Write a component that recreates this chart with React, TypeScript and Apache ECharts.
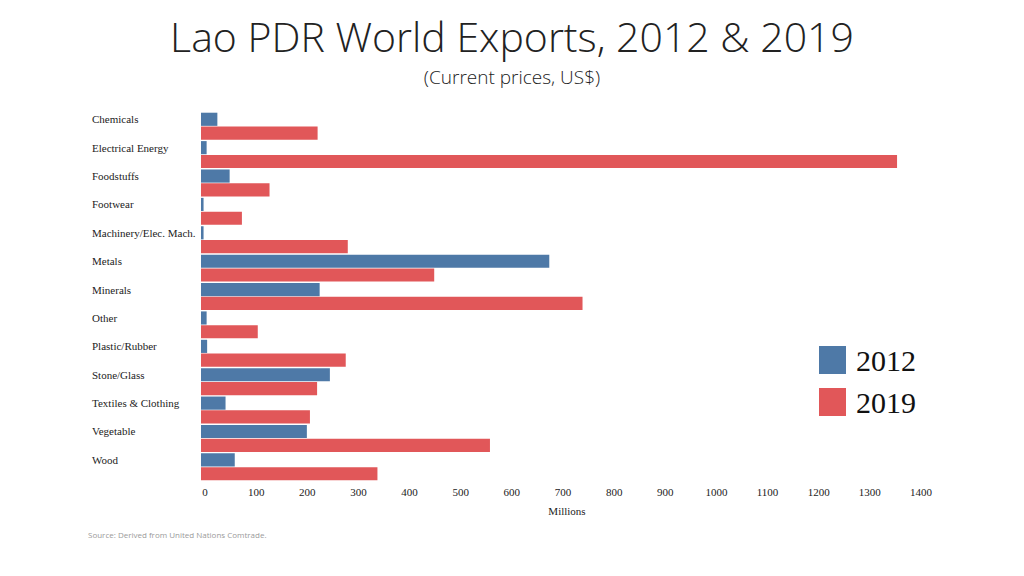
import React, { useEffect, useRef } from "react";
import * as echarts from "echarts";

const categories = [
  "Chemicals",
  "Electrical Energy",
  "Foodstuffs",
  "Footwear",
  "Machinery/Elec. Mach.",
  "Metals",
  "Minerals",
  "Other",
  "Plastic/Rubber",
  "Stone/Glass",
  "Textiles & Clothing",
  "Vegetable",
  "Wood",
];
const values2012 = [32, 11, 56, 5, 5, 681, 232, 11, 12, 252, 48, 207, 66];
const values2019 = [228, 1361, 134, 80, 287, 456, 746, 111, 283, 227, 213, 565, 345];
const seriesNames = ["2012", "2019"];
const colors = ["#4E79A7", "#E15759"];

export default function App() {
  const ref = useRef<HTMLDivElement>(null);
  useEffect(() => {
    if (!ref.current) return;
    const chart = echarts.init(ref.current, null, { renderer: "svg" });
    const serif = "'Liberation Serif', 'Times New Roman', serif";
    chart.setOption({
      animation: false,
      backgroundColor: "#ffffff",
      title: [
        {
          text: "Lao PDR World Exports, 2012 & 2019",
          left: "center",
          top: 13,
          padding: 0,
          textStyle: {
            fontFamily: "'Open Sans', sans-serif",
            fontWeight: 300,
            fontSize: 41,
            lineHeight: 46,
            color: "#222222",
          },
        },
        {
          text: "(Current prices, US$)",
          left: "center",
          top: 66,
          padding: 0,
          textStyle: {
            fontFamily: "'Open Sans', sans-serif",
            fontWeight: 300,
            fontSize: 19,
            lineHeight: 22,
            color: "#222222",
          },
        },
        {
          text: "Source: Derived from United Nations Comtrade.",
          left: 88,
          top: 530,
          padding: 0,
          textStyle: {
            fontFamily: "'Open Sans', sans-serif",
            fontWeight: "normal",
            fontSize: 8,
            color: "#9a9a9a",
          },
        },
      ],
      legend: {
        orient: "vertical",
        left: 819,
        top: 345,
        padding: 0,
        icon: "rect",
        itemWidth: 27,
        itemHeight: 28,
        itemGap: 12,
        textStyle: { fontFamily: serif, fontSize: 30, color: "#111111", padding: [0, 0, 0, 5] },
        data: seriesNames,
      },
      grid: { left: 201, right: 107, top: 112, bottom: 95, containLabel: false },
      xAxis: {
        type: "value",
        min: 0,
        max: 1400,
        interval: 100,
        name: "Millions",
        nameLocation: "middle",
        nameGap: 24,
        nameTextStyle: { fontFamily: serif, fontSize: 11, color: "#222222", padding: [0, 0, 0, 16] },
        axisLine: { show: false },
        axisTick: { show: false },
        splitLine: { show: false },
        axisLabel: {
          fontFamily: serif,
          fontSize: 11,
          color: "#222222",
          margin: 5,
          padding: [0, 0, 0, 8],
          formatter: (v: number) => String(v),
        },
      },
      yAxis: {
        type: "category",
        data: categories,
        inverse: true,
        axisLine: { show: false },
        axisTick: { show: false },
        splitLine: { show: false },
        axisLabel: {
          fontFamily: serif,
          fontSize: 11,
          color: "#222222",
          align: "left",
          verticalAlign: "bottom",
          lineHeight: 14,
          margin: 109,
        },
      },
      series: [
        {
          name: seriesNames[0],
          type: "bar",
          data: values2012,
          itemStyle: { color: colors[0] },
          barGap: "5%",
          barCategoryGap: "5%",
        },
        {
          name: seriesNames[1],
          type: "bar",
          data: values2019,
          itemStyle: { color: colors[1] },
          barGap: "5%",
          barCategoryGap: "5%",
        },
      ],
    });
    return () => chart.dispose();
  }, []);
  return <div ref={ref} style={{ width: 1024, height: 576, position: "absolute", left: 0, top: 0 }} />;
}
